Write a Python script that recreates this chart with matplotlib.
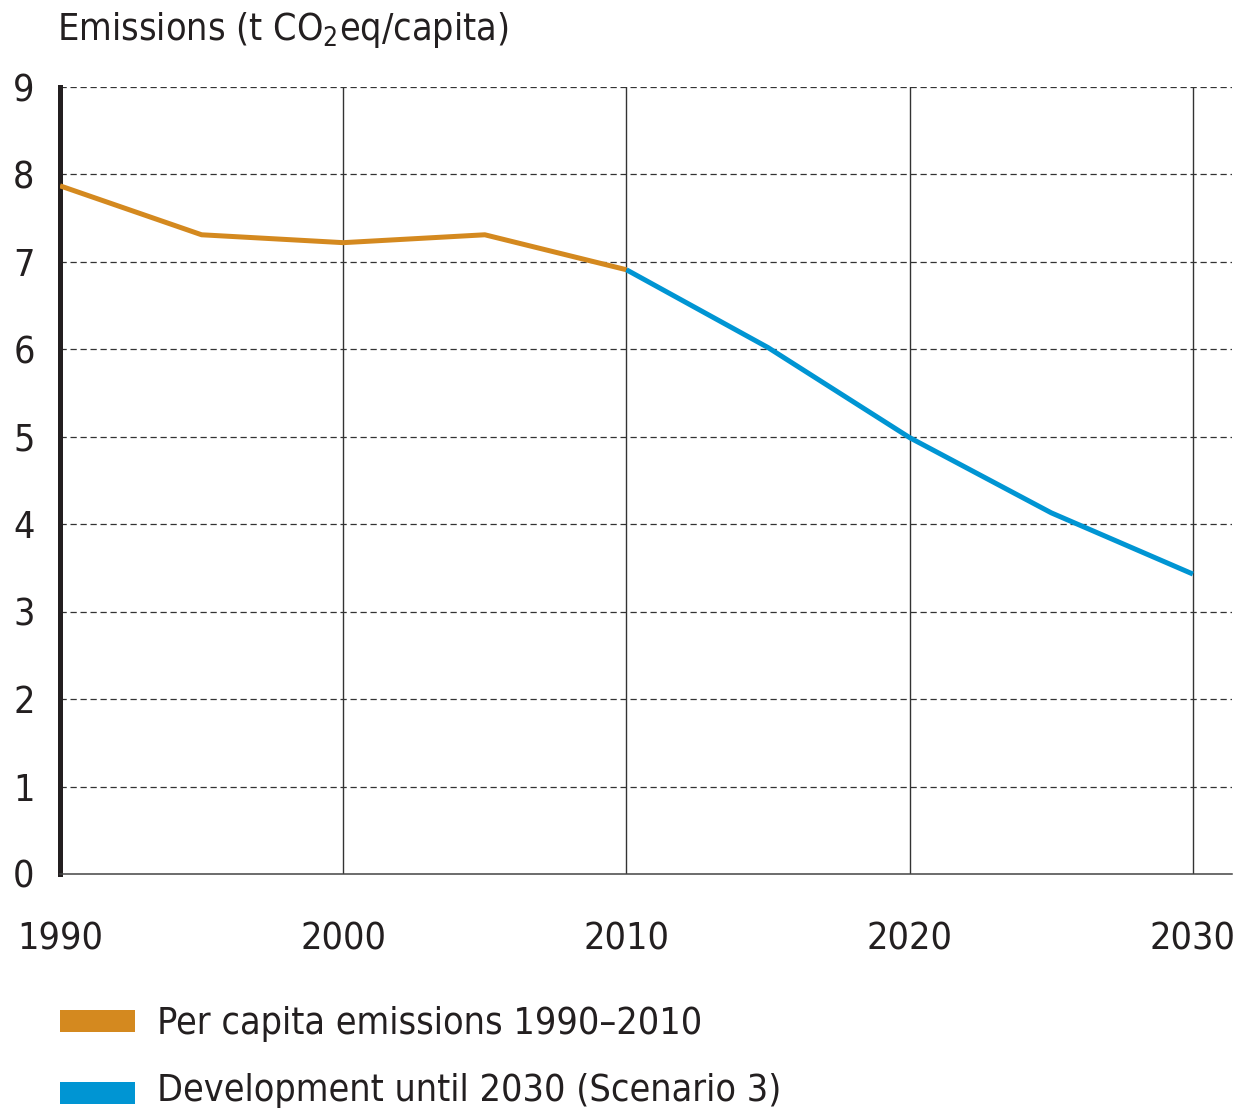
import matplotlib
matplotlib.use("Agg")
import matplotlib.pyplot as plt
from matplotlib.patches import Rectangle

plt.rcParams['font.family'] = ['Liberation Sans Narrow', 'DejaVu Sans']
plt.rcParams['font.stretch'] = 'condensed'
plt.rcParams['mathtext.fontset'] = 'custom'
plt.rcParams['mathtext.rm'] = 'DejaVu Sans:stretch=condensed'
plt.rcParams['mathtext.default'] = 'rm'

years_hist = [1990, 1995, 2000, 2005, 2010]
values_hist = [7.87, 7.31, 7.22, 7.31, 6.91]
years_scen = [2010, 2015, 2020, 2025, 2030]
values_scen = [6.91, 6.02, 4.99, 4.13, 3.43]
x_ticks = [1990, 2000, 2010, 2020, 2030]
y_ticks = [0, 1, 2, 3, 4, 5, 6, 7, 8, 9]
legend_labels = ["Per capita emissions 1990\u20132010", "Development until 2030 (Scenario 3)"]
title = "Emissions (t CO$_2$eq/capita)"

orange = "#D4891F"
blue = "#0095D3"
text_color = "#231F20"

fig = plt.figure(figsize=(12.38, 11.08), dpi=100)
ax = fig.add_axes([60/1238, 1-874/1108, (1232-60)/1238, (874-87)/1108])
ax.set_xlim(1990, 2031.38)
ax.set_ylim(0, 9)

for y in y_ticks[1:]:
    ax.axhline(y, color="#333333", lw=0.9, ls=(0, (5, 3)), zorder=1)
for x in x_ticks[1:]:
    ax.axvline(x, color="#333333", lw=1.0, zorder=1)

ax.plot(years_hist, values_hist, color=orange, lw=3.6, solid_capstyle='butt', zorder=3)
ax.plot(years_scen, values_scen, color=blue, lw=3.6, solid_capstyle='butt', zorder=3)

for s in ['top', 'right']:
    ax.spines[s].set_visible(False)
ax.spines['left'].set_linewidth(3.6)
ax.spines['left'].set_color("#231F20")
ax.spines['bottom'].set_linewidth(1.1)
ax.spines['bottom'].set_color("#444444")

ax.set_xticks(x_ticks)
ax.set_yticks(y_ticks)
ax.tick_params(axis='both', length=0, labelsize=27, colors=text_color)
ax.tick_params(axis='x', pad=34)
for lab in ax.get_yticklabels():
    lab.set_horizontalalignment('center')
ax.tick_params(axis='y', pad=26)

fig.text(57/1238, 1-40/1108, title, fontsize=27, color=text_color, va='baseline', ha='left')

colors = [orange, blue]
patch_centers = [1021, 1093]
text_baselines = [1034, 1101]
for lab, c, yc, yb in zip(legend_labels, colors, patch_centers, text_baselines):
    fig.patches.append(Rectangle((60/1238, 1-(yc+11)/1108), 75/1238, 22/1108,
                                 transform=fig.transFigure, facecolor=c, edgecolor='none'))
    fig.text(157/1238, 1-yb/1108, lab, fontsize=27, color=text_color, va='baseline', ha='left')

fig.savefig("out.png", dpi=100)
